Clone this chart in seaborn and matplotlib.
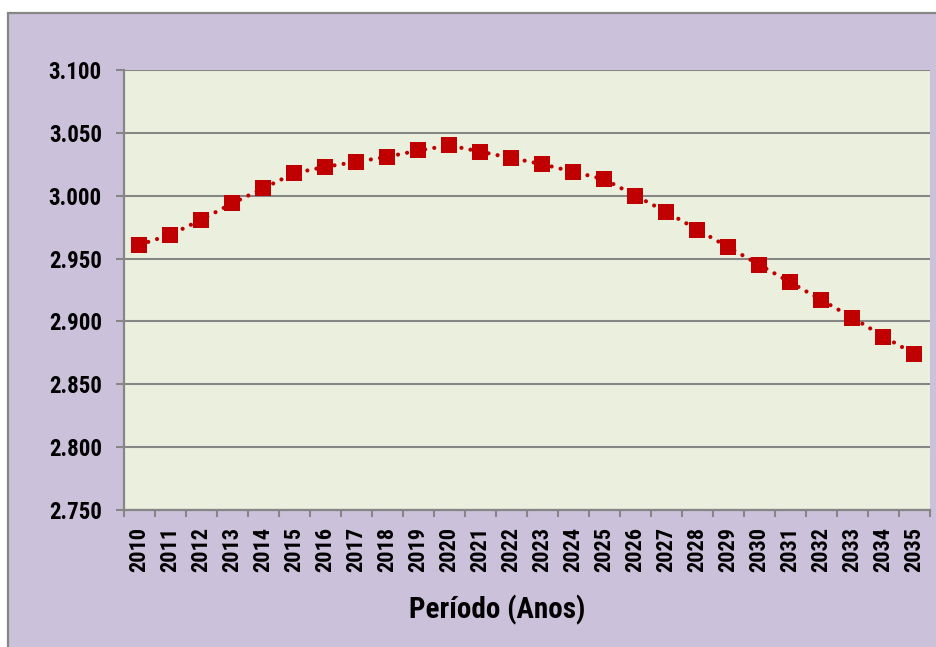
import pandas as pd
import matplotlib
matplotlib.use("Agg")
import matplotlib.pyplot as plt
import seaborn as sns
from matplotlib import font_manager as fm
from matplotlib.patches import Rectangle
from matplotlib.ticker import FuncFormatter, FixedLocator

# data (values in thousands, pt-BR format)
anos = list(range(2010, 2036))
valores = [2961, 2969, 2981, 2994, 3006, 3018, 3023, 3027, 3031, 3036,
           3040, 3035, 3030, 3025, 3019, 3013, 3000, 2987, 2973, 2959,
           2945, 2931, 2917, 2903, 2888, 2874]
y_ticks = [2750, 2800, 2850, 2900, 2950, 3000, 3050, 3100]
x_label = "Período (Anos)"

df = pd.DataFrame({"Ano": anos, "Valor": valores})

sns.set_style("white")

# pick a narrow bold font, close to the original Helvetica Condensed look
installed = {f.name for f in fm.fontManager.ttflist}
narrow = next((n for n in ["Liberation Sans Narrow", "Roboto Condensed",
                           "Barlow Semi Condensed", "Barlow Condensed"]
               if n in installed), "DejaVu Sans")
plt.rcParams['font.family'] = [narrow, 'DejaVu Sans']
plt.rcParams['font.stretch'] = 'condensed'
plt.rcParams['text.color'] = 'black'
plt.rcParams['xtick.color'] = 'black'
plt.rcParams['ytick.color'] = 'black'

purple = "#CCC1DA"
plot_bg = "#EBF0DE"
gray = "#868686"
red = "#C00000"

fig = plt.figure(figsize=(9.37, 6.47), dpi=100, facecolor="white")
# purple chart area with gray outline (top and left visible)
fig.patches.append(Rectangle((8 / 937, -0.05), 1.2, 1.05 - 13 / 647,
                             transform=fig.transFigure, facecolor=purple,
                             edgecolor=gray, linewidth=1.6, zorder=-1))

ax = fig.add_axes([124 / 937, 1 - 510 / 647, (930 - 124) / 937, (510 - 70) / 647])
ax.set_facecolor(plot_bg)

sns.lineplot(data=df, x="Ano", y="Valor", ax=ax, color=red, linewidth=3,
             marker="s", markersize=11, markeredgewidth=0, zorder=3)
line = ax.lines[0]
line.set_linestyle((0, (0.01, 2.2)))
line.set_dash_capstyle("round")

ax.set_xlim(2009.5, 2035.5)
ax.set_ylim(2750, 3100)
ax.set_yticks(y_ticks)
ax.yaxis.set_major_formatter(FuncFormatter(lambda v, p: f"{v / 1000:.3f}"))
ax.set_xticks(anos)
ax.set_xticklabels([str(a) for a in anos], rotation=90)
ax.xaxis.set_minor_locator(FixedLocator([a - 0.5 for a in anos] + [2035.5]))

ax.yaxis.grid(True, color=gray, linewidth=1.5)
ax.set_axisbelow(True)

for s in ["top", "right"]:
    ax.spines[s].set_visible(False)
for s in ["left", "bottom"]:
    ax.spines[s].set_color(gray)
    ax.spines[s].set_linewidth(1.6)

ax.tick_params(axis="y", which="major", length=6, width=1.5, color=gray,
               labelcolor="black", left=True, labelsize=16.5, pad=10)
ax.tick_params(axis="x", which="major", length=0, labelcolor="black",
               labelsize=16, pad=12)
ax.tick_params(axis="x", which="minor", length=5, width=1.5, color=gray,
               bottom=True)
for lab in ax.get_xticklabels() + ax.get_yticklabels():
    lab.set_fontweight("bold")

ax.set_ylabel("")
ax.set_xlabel(x_label, fontsize=21, fontweight="bold", color="black")
# the original centres the axis title on the whole chart, not the plot area
ax.xaxis.set_label_coords((497 - 124) / 806, -(610 - 510) / 440)
ax.xaxis.label.set_va("center")

fig.savefig("out.png", dpi=100, facecolor=fig.get_facecolor())
